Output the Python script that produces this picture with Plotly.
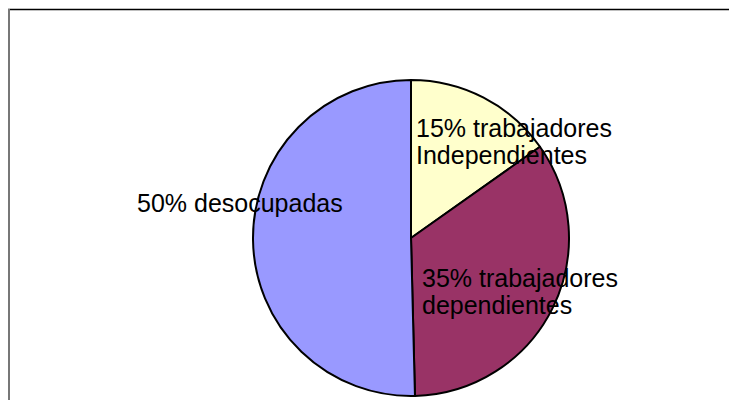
import plotly.graph_objects as go

# slice data (clockwise from 12 o'clock)
categories = ["trabajadores Independientes", "trabajadores dependientes", "desocupadas"]
shares = [15.2, 34.4, 50.4]
colors = ["#FFFFCC", "#993366", "#9999FF"]

# label lines as printed on the chart
label_lines = [
    ["15% trabajadores", "Independientes"],
    ["35% trabajadores", "dependientes"],
    ["50% desocupadas"],
]
# left edge / first-line centre of each label block, in pixels (figure coords)
label_pos = [(406, 120), (412, 270), (127, 195)]

W, H = 737, 400

fig = go.Figure(go.Pie(
    labels=categories,
    values=shares,
    sort=False,
    direction="clockwise",
    rotation=0,
    textinfo="none",
    hoverinfo="label+percent",
    marker=dict(colors=colors, line=dict(color="black", width=2)),
    domain=dict(x=[245 / W, 561 / W], y=[1 - 388 / H, 1 - 72 / H]),
    showlegend=False,
))

annotations = []
for lines, (px, py) in zip(label_lines, label_pos):
    for i, line in enumerate(lines):
        annotations.append(dict(
            text=line, x=px / W, y=1 - (py + 27 * i) / H,
            xref="paper", yref="paper", xanchor="left", yanchor="middle",
            showarrow=False,
            font=dict(family="Arial, Liberation Sans, sans-serif", size=25, color="black"),
        ))

fig.update_layout(
    width=W, height=H,
    margin=dict(l=0, r=0, t=0, b=0),
    paper_bgcolor="white",
    plot_bgcolor="white",
    annotations=annotations,
    shapes=[
        dict(type="line", xref="paper", yref="paper",
             x0=0, x1=1, y0=1 - 1.5 / H, y1=1 - 1.5 / H,
             line=dict(color="black", width=1.5)),
        dict(type="line", xref="paper", yref="paper",
             x0=1 / W, x1=1 / W, y0=0, y1=1 - 1 / H,
             line=dict(color="#777777", width=2)),
    ],
)

fig.write_html("out.html")
